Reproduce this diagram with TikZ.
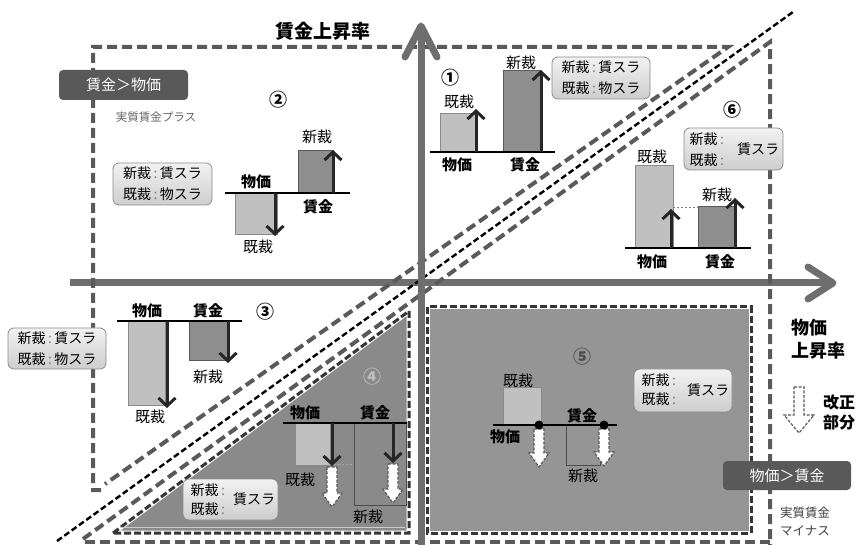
\documentclass[tikz,border=0pt]{standalone}
\usepackage{fontspec}
\setmainfont{Noto Sans CJK JP}
\usetikzlibrary{arrows.meta}
\definecolor{axisc}{HTML}{6E6E6E}
\definecolor{regc}{HTML}{5A5A5A}
\definecolor{lbar}{HTML}{C0C0C0}
\definecolor{lbarb}{HTML}{8A8A8A}
\definecolor{dbar}{HTML}{8E8E8E}
\definecolor{dbarb}{HTML}{5A5A5A}
\definecolor{trif}{HTML}{8A8A8A}
\definecolor{rectf}{HTML}{959595}
\definecolor{shadeb}{HTML}{353535}
\definecolor{darktag}{HTML}{595959}
\definecolor{boxtop}{HTML}{F2F2F2}
\definecolor{boxbot}{HTML}{CDCDCD}
\definecolor{boxb}{HTML}{8C8C8C}
\newcommand\hollowarrow[6]{%
  \draw[hollow] ({#1-#4},#2) -- ({#1+#4},#2) -- ({#1+#4},{#3-#6}) -- ({#1+#5},{#3-#6}) -- (#1,#3) -- ({#1-#5},{#3-#6}) -- ({#1-#4},{#3-#6}) -- cycle;}
\newcommand\gc{\,{\color{gray}:}\,}
\begin{document}
\begin{tikzpicture}[x=1pt,y=-1pt,
  every node/.style={inner sep=0pt, outer sep=0pt},
  lbl/.style={font=\fontsize{15}{17}\selectfont},
  blbl/.style={font=\fontsize{15}{17}\selectfont\bfseries},
  num/.style={font=\fontsize{18}{20}\selectfont\bfseries},
  boxtxt/.style={font=\fontsize{14}{16}\selectfont},
  lbarbox/.style={fill=lbar, draw=lbarb, line width=1pt},
  dbarbox/.style={fill=dbar, draw=dbarb, line width=1pt},
  obarbox/.style={draw=black!70, line width=1pt},
  baseln/.style={line width=2pt, black},
  barrow/.style={line width=3pt, black!85, -{Straight Barb[length=8pt,width=17pt]}},
  infobox/.style={draw=boxb, line width=0.8pt, rounded corners=6pt, top color=boxtop, bottom color=boxbot, font=\fontsize{14}{21}\selectfont, align=center},
  tagbox/.style={fill=darktag, rounded corners=4pt, text=white, font=\fontsize{15}{17}\selectfont},
  regdash/.style={draw=regc, line width=4pt, dash pattern=on 10pt off 5pt},
  blkdash/.style={draw=black, line width=2.4pt, dash pattern=on 6pt off 3pt},
  shadeedge/.style={draw=shadeb, line width=3pt, dash pattern=on 7pt off 3pt},
  hollow/.style={fill=white, draw=black!65, line width=1.2pt, dash pattern=on 3pt off 1.5pt},
  axisln/.style={draw=axisc, line width=7pt},
  axishead/.style={draw=axisc, line width=7pt, line cap=round, line join=round},
]
\useasboundingbox[fill=white] (0,0) rectangle (860,545);

% shaded regions
\fill[trif] (113,533) -- (409,311) -- (409,533) -- cycle;
\draw[white, line width=5pt] (113,533) -- (409,311) -- (409,533) -- cycle;
\draw[shadeedge] (113,533) -- (409,311) -- (409,533) -- cycle;
\draw[gray!40, line width=1pt] (120,527) -- (405,527);
\fill[rectf] (427,307) rectangle (751,533);
\draw[white, line width=5pt] (427,307) rectangle (751,533);
\draw[shadeedge] (427,307) rectangle (751,533);

% horizontal axis
\draw[axisln] (70,283) -- (830,283);
\draw[axishead] (808,267) -- (833,283) -- (808,299);

% region borders
\draw[regdash] (101,490) -- (93,490) -- (93,47) -- (728,47) -- (105,484);
\draw[regdash] (83,539) -- (770,42) -- (770,545);
\draw[regdash] (85,542) -- (770,542);
\draw[blkdash] (57,541) -- (793,12);

% vertical axis
\draw[axisln] (421,545) -- (421,28);
\draw[axishead] (405,57) -- (421,26) -- (437,57);

% axis labels
\node[font=\fontsize{19}{21}\selectfont\bfseries] (ylab) at (323,31) {賃金上昇率};
\node[font=\fontsize{18}{20}\selectfont\bfseries, anchor=west] (xlab1) at (791,328) {物価};
\node[font=\fontsize{18}{20}\selectfont\bfseries, anchor=west] (xlab2) at (791,351) {上昇率};

% tags
\node[tagbox, minimum width=129pt, minimum height=30pt] (tagA) at (123.5,85) {賃金＞物価};
\node[font=\fontsize{11.5}{13}\selectfont, text=black!60] (plus) at (156,117) {実質賃金プラス};
\node[tagbox, minimum width=128pt, minimum height=29pt] (tagB) at (787,475.5) {物価＞賃金};
\node[font=\fontsize{12.5}{14}\selectfont, text=black!75] (minus1) at (805,513) {実質賃金};
\node[font=\fontsize{12.5}{14}\selectfont, text=black!75] (minus2) at (805,531) {マイナス};

% legend
\hollowarrow{799}{387}{433}{5}{15}{18}
\node[font=\fontsize{16}{18}\selectfont\bfseries] (leg1) at (839,402) {改正};
\node[font=\fontsize{16}{18}\selectfont\bfseries] (leg2) at (839,423) {部分};

% ---- Quadrant 2
\node[num] (n2) at (278,100) {②};
\node[infobox, minimum width=99pt, minimum height=42pt] (box2) at (162.5,184) {新裁\gc 賃スラ\\既裁\gc 物スラ};
\draw[lbarbox] (235,193) rectangle (277,235);
\draw[dbarbox] (298,151) rectangle (333,193);
\draw[baseln] (225,193) -- (350,193);
\draw[barrow] (275,193) -- (275,236);
\draw[barrow] (333,193) -- (333,150);
\node[blbl] (q2p) at (256,182) {物価};
\node[lbl] (q2k) at (258,247) {既裁};
\node[lbl] (q2s) at (317,137) {新裁};
\node[blbl] (q2w) at (318,207) {賃金};

% ---- Quadrant 1
\node[num] (n1) at (450,78) {①};
\node[infobox, minimum width=98pt, minimum height=42pt] (box1) at (601,78) {新裁\gc 賃スラ\\既裁\gc 物スラ};
\draw[lbarbox] (440,114) rectangle (475,152);
\draw[dbarbox] (503,71) rectangle (540,152);
\draw[baseln] (430,152) -- (555,152);
\draw[barrow] (476,152) -- (476,109);
\draw[barrow] (541,152) -- (541,70);
\node[lbl] (q1k) at (459,102) {既裁};
\node[lbl] (q1s) at (521,63) {新裁};
\node[blbl] (q1p) at (457,165) {物価};
\node[blbl] (q1w) at (525,165) {賃金};

% ---- Quadrant 6
\node[num] (n6) at (732,110) {⑥};
\node[infobox, minimum width=99pt, minimum height=42pt] (box6) at (733.5,149) {};
\node[boxtxt] (b6a) at (708,139) {新裁\gc};
\node[boxtxt] (b6b) at (708,160) {既裁\gc};
\node[boxtxt] (b6c) at (758,149) {賃スラ};
\draw[lbarbox] (635,166) rectangle (673,248);
\draw[dbarbox] (698,207) rectangle (734,248);
\draw[gray, line width=0.8pt, dash pattern=on 2pt off 2pt] (673,207) -- (698,207);
\draw[baseln] (625,248) -- (751,248);
\draw[barrow] (671,248) -- (671,209);
\draw[barrow] (735,248) -- (735,198);
\node[lbl] (q6k) at (652,157) {既裁};
\node[lbl] (q6s) at (717,195) {新裁};
\node[blbl] (q6p) at (652,262) {物価};
\node[blbl] (q6w) at (720,262) {賃金};

% ---- Quadrant 3
\node[num] (n3) at (265,312) {③};
\node[infobox, minimum width=98pt, minimum height=41pt] (box3) at (57,348.5) {新裁\gc 賃スラ\\既裁\gc 物スラ};
\draw[lbarbox] (128,321) rectangle (165,406);
\draw[dbarbox] (189,321) rectangle (227,361);
\draw[baseln] (117,321) -- (242,321);
\draw[barrow] (167,321) -- (167,408);
\draw[barrow] (228,321) -- (228,363);
\node[blbl] (q3p) at (147,311) {物価};
\node[blbl] (q3w) at (208,311) {賃金};
\node[lbl] (q3k) at (150,417) {既裁};
\node[lbl] (q3s) at (208,377) {新裁};

% ---- Quadrant 4
\node[num, text=gray!50] (n4) at (372,377) {④};
\node[infobox, minimum width=95pt, minimum height=41pt] (box4) at (230.5,499.5) {};
\node[boxtxt] (b4a) at (209,490) {新裁\gc};
\node[boxtxt] (b4b) at (209,509) {既裁\gc};
\node[boxtxt] (b4c) at (254,499) {賃スラ};
\draw[lbarbox] (295,423) rectangle (330,465);
\draw[obarbox] (354,423) rectangle (406,505);
\draw[gray!70, line width=0.8pt, dash pattern=on 2pt off 2pt] (330,464) -- (354,464);
\draw[baseln] (283,423) -- (407,423);
\draw[barrow] (332,423) -- (332,466);
\draw[barrow] (393,423) -- (393,463);
\hollowarrow{332}{467}{507}{5}{10}{14}
\hollowarrow{393}{464}{503}{5}{10}{14}
\node[blbl] (q4p) at (305,413) {物価};
\node[blbl] (q4w) at (375,413) {賃金};
\node[lbl] (q4k) at (300,480) {既裁};
\node[lbl] (q4s) at (368,517) {新裁};

% ---- Quadrant 5
\node[num, text=black!70] (n5) at (582,357) {⑤};
\node[infobox, minimum width=98pt, minimum height=43pt] (box5) at (683,390.5) {};
\node[boxtxt] (b5a) at (660,380) {新裁\gc};
\node[boxtxt] (b5b) at (660,399) {既裁\gc};
\node[boxtxt] (b5c) at (708,390) {賃スラ};
\draw[lbarbox] (503,388) rectangle (541,425);
\draw[obarbox] (566,425) rectangle (600,465);
\draw[baseln] (493,425) -- (617,425);
\hollowarrow{539}{429}{467}{5}{10}{14}
\hollowarrow{604}{429}{466}{5}{10}{14}
\fill[black] (539,425) circle (4.5pt);
\fill[black] (604,425) circle (4.5pt);
\node[lbl] (q5k) at (518,381) {既裁};
\node[blbl] (q5p) at (505,437) {物価};
\node[blbl] (q5w) at (582,416) {賃金};
\node[lbl] (q5s) at (583,476) {新裁};
\end{tikzpicture}
\end{document}
